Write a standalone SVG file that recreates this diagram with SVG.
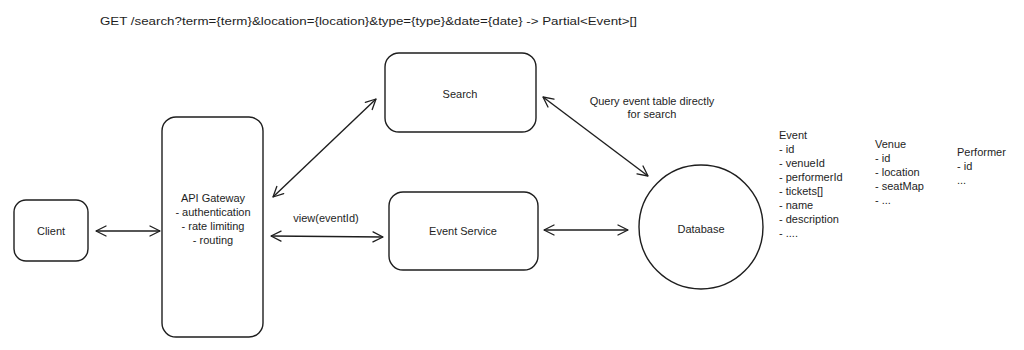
<svg xmlns="http://www.w3.org/2000/svg" width="1024" height="350" viewBox="0 0 1024 350">
<defs>
<marker id="ah" viewBox="0 0 12 12" refX="11" refY="6" markerWidth="12" markerHeight="12" markerUnits="userSpaceOnUse" orient="auto-start-reverse">
<path d="M1,1 L11,6 L1,11" fill="none" stroke="#1e1e1e" stroke-width="1.3" stroke-linecap="round" stroke-linejoin="round"/>
</marker>
</defs>
<style>
.box{fill:#ffffff;stroke:#1e1e1e;stroke-width:1.4}
.t{font-family:"Liberation Sans",Arial,sans-serif;font-size:11px;fill:#1e1e1e}
.c{text-anchor:middle}
.edge{stroke:#1e1e1e;stroke-width:1.4;fill:none;marker-start:url(#ah);marker-end:url(#ah)}
</style>
<rect width="1024" height="350" fill="#ffffff"/>
<text class="t" x="100" y="25" textLength="537" lengthAdjust="spacingAndGlyphs">GET /search?term={term}&amp;location={location}&amp;type={type}&amp;date={date} -&gt; Partial&lt;Event&gt;[]</text>
<g id="connectors">
<line class="edge" x1="96" y1="231" x2="160" y2="231"/>
<line class="edge" x1="273" y1="197" x2="376" y2="99"/>
<line class="edge" x1="271" y1="236" x2="383" y2="237"/>
<text class="t c" x="326" y="222">view(eventId)</text>
<line class="edge" x1="544" y1="230" x2="628" y2="230"/>
<line class="edge" x1="543" y1="97" x2="648" y2="176"/>
<text class="t c" x="652" y="105">Query event table directly</text>
<text class="t c" x="652" y="118">for search</text>
</g>
<g id="client">
<rect class="box" x="14" y="200" width="74" height="61" rx="12"/>
<text class="t c" x="51" y="235">Client</text>
</g>
<g id="api-gateway">
<rect class="box" x="162" y="117" width="101" height="220" rx="14"/>
<text class="t c" x="213" y="202">API Gateway</text>
<text class="t c" x="213" y="216">- authentication</text>
<text class="t c" x="213" y="230">- rate limiting</text>
<text class="t c" x="213" y="244">- routing</text>
</g>
<g id="search">
<rect class="box" x="385" y="53" width="151" height="79" rx="14"/>
<text class="t c" x="460" y="98">Search</text>
</g>
<g id="event-service">
<rect class="box" x="389" y="192" width="149" height="78" rx="14"/>
<text class="t c" x="463" y="235">Event Service</text>
</g>
<g id="database">
<circle class="box" cx="701" cy="227" r="62"/>
<text class="t c" x="701" y="233">Database</text>
</g>
<g id="schema">
<text class="t" x="779" y="139">Event</text>
<text class="t" x="779" y="153">- id</text>
<text class="t" x="779" y="167">- venueId</text>
<text class="t" x="779" y="181">- performerId</text>
<text class="t" x="779" y="195">- tickets[]</text>
<text class="t" x="779" y="209">- name</text>
<text class="t" x="779" y="223">- description</text>
<text class="t" x="779" y="237">- ....</text>
<text class="t" x="875" y="148">Venue</text>
<text class="t" x="875" y="162">- id</text>
<text class="t" x="875" y="176">- location</text>
<text class="t" x="875" y="190">- seatMap</text>
<text class="t" x="875" y="204">- ...</text>
<text class="t" x="957" y="156">Performer</text>
<text class="t" x="957" y="170">- id</text>
<text class="t" x="957" y="184">...</text>
</g>
</svg>
